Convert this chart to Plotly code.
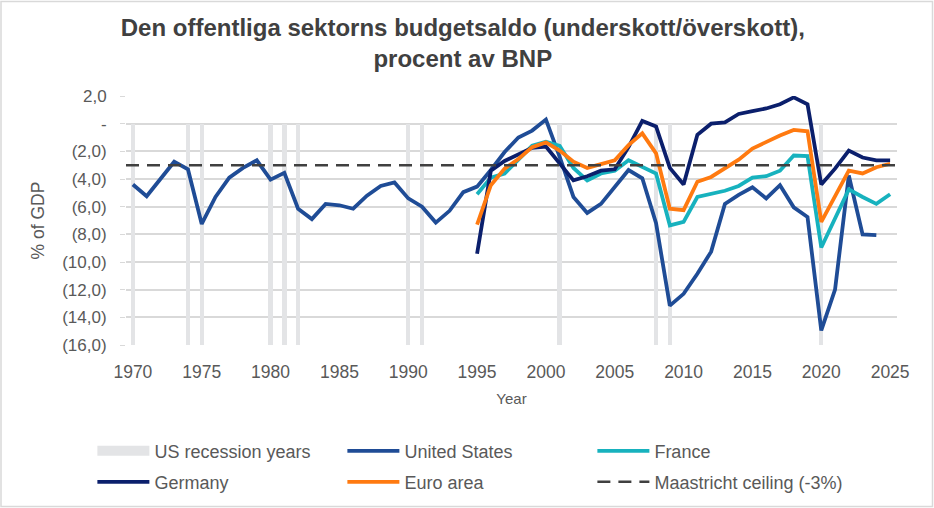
import plotly.graph_objects as go

years_us = list(range(1970, 2025))
us = [-4.4, -5.25, -4.0, -2.75, -3.3, -7.25, -5.3, -3.9, -3.2, -2.65,
      -4.05, -3.55, -6.15, -6.9, -5.8, -5.9, -6.15, -5.2, -4.5, -4.25,
      -5.4, -6.0, -7.15, -6.3, -4.95, -4.55, -3.35, -2.05, -1.0, -0.5,
      0.3, -2.4, -5.3, -6.45, -5.8, -4.55, -3.35, -3.95, -7.2, -13.15,
      -12.3, -10.85, -9.25, -5.8, -5.15, -4.6, -5.4, -4.45, -6.05, -6.75,
      -14.95, -12.0, -3.75, -8.0, -8.05]

years_eu = list(range(1995, 2026))
germany = [-9.4, -3.4, -2.7, -2.2, -1.75, -1.65, -2.9, -4.1, -3.8, -3.4,
           -3.3, -1.7, 0.2, -0.2, -3.2, -4.4, -0.8, 0.0, 0.1, 0.7,
           0.9, 1.1, 1.4, 1.9, 1.4, -4.4, -3.25, -1.95, -2.45, -2.65, -2.65]
euro_area = [-7.3, -4.45, -3.25, -2.55, -1.7, -1.35, -1.95, -2.75, -3.2, -2.9,
             -2.65, -1.55, -0.7, -2.15, -6.15, -6.25, -4.2, -3.85, -3.25, -2.6,
             -1.8, -1.3, -0.85, -0.45, -0.55, -7.1, -5.2, -3.4, -3.6, -3.15, -2.9]
france = [-5.1, -3.9, -3.6, -2.6, -1.6, -1.3, -1.6, -3.2, -4.1, -3.6,
          -3.4, -2.65, -3.1, -3.6, -7.35, -7.1, -5.3, -5.1, -4.85, -4.5,
          -3.9, -3.8, -3.4, -2.3, -2.35, -8.95, -6.85, -4.75, -5.3, -5.8, -5.1]

recession_years = [1970, 1974, 1975, 1980, 1981, 1982, 1990, 1991, 2001, 2008, 2009, 2020]
recession_depth = -16

ceiling = -3
x_range = [1969.5, 2025.5]

tick_vals = [2, 0, -2, -4, -6, -8, -10, -12, -14, -16]
tick_text = ["2,0", "-", "(2,0)", "(4,0)", "(6,0)", "(8,0)", "(10,0)", "(12,0)", "(14,0)", "(16,0)"]

grey_text = "#595959"
rec_grey = "#E3E4E6"
font = "Liberation Sans, Arial, sans-serif"
lw = 3.8

fig = go.Figure()
# recession bars (legend entry drawn by a proxy so the swatch is wide like the original)
fig.add_trace(go.Bar(x=recession_years, y=[recession_depth] * len(recession_years),
                     width=0.32, marker_color=rec_grey, marker_line_width=0,
                     showlegend=False, hoverinfo="x"))
fig.add_trace(go.Scatter(x=[None], y=[None], mode="lines", name="US recession years",
                         line=dict(color=rec_grey, width=10), legend="legend"))
fig.add_trace(go.Scatter(x=years_us, y=us, mode="lines", name="United States",
                         line=dict(color="#1F4C96", width=lw), legend="legend"))
fig.add_trace(go.Scatter(x=years_eu, y=france, mode="lines", name="France",
                         line=dict(color="#17B2BE", width=lw), legend="legend"))
fig.add_trace(go.Scatter(x=years_eu, y=germany, mode="lines", name="Germany",
                         line=dict(color="#0B1F6C", width=lw), legend="legend2"))
fig.add_trace(go.Scatter(x=years_eu, y=euro_area, mode="lines", name="Euro area",
                         line=dict(color="#FF7A10", width=lw), legend="legend2"))
fig.add_trace(go.Scatter(x=x_range, y=[ceiling, ceiling], mode="lines",
                         name="Maastricht ceiling (-3%)", legend="legend2",
                         line=dict(color="#404040", width=2.5, dash="13px,8px")))

legend_style = dict(orientation="h", x=-0.0436, xanchor="left", yanchor="middle",
                    entrywidth=183, itemwidth=52, font=dict(size=18, color=grey_text),
                    traceorder="normal", bgcolor="rgba(0,0,0,0)")

fig.update_layout(
    width=934, height=508,
    margin=dict(l=126, r=37, t=96, b=163, autoexpand=False),
    paper_bgcolor="white", plot_bgcolor="white",
    font=dict(family=font, color=grey_text, size=17),
    title=dict(text="<b>Den offentliga sektorns budgetsaldo (underskott/överskott),<br>procent av BNP</b>",
               x=0.4955, xanchor="center", y=0.929, yanchor="top",
               font=dict(size=24, color="#404040")),
    bargap=0,
    legend=dict(y=-0.4263, **legend_style),
    legend2=dict(y=-0.5508, **legend_style),
    showlegend=True,
)
fig.update_xaxes(range=x_range, tickvals=list(range(1970, 2026, 5)), showgrid=False,
                 zeroline=False, showline=False, ticks="", tickfont=dict(size=17.5),
                 ticklabelstandoff=14,
                 title=dict(text="Year", font=dict(size=15), standoff=12))
fig.update_yaxes(range=[-16, 2], tickvals=tick_vals, ticktext=tick_text,
                 showgrid=True, gridcolor="#D9D9D9", gridwidth=1.5, zeroline=False,
                 ticks="outside", ticklen=5, tickcolor="#D9D9D9",
                 tickfont=dict(size=17), ticklabelstandoff=10,
                 title=dict(text="% of GDP", font=dict(size=17.5), standoff=13))

fig.add_shape(type="rect", xref="paper", yref="paper",
              x0=-125 / 771, x1=1 + 35.5 / 771, y0=-161.5 / 249, y1=1 + 94.5 / 249,
              line=dict(color="#D9D9D9", width=1.5), fillcolor="rgba(0,0,0,0)", layer="below")

# page body has a default 8px margin; drop it so the figure sits at the window corner
fig.write_html("out.html", config={"displayModeBar": False},
               post_script="document.body.style.margin='0';")
